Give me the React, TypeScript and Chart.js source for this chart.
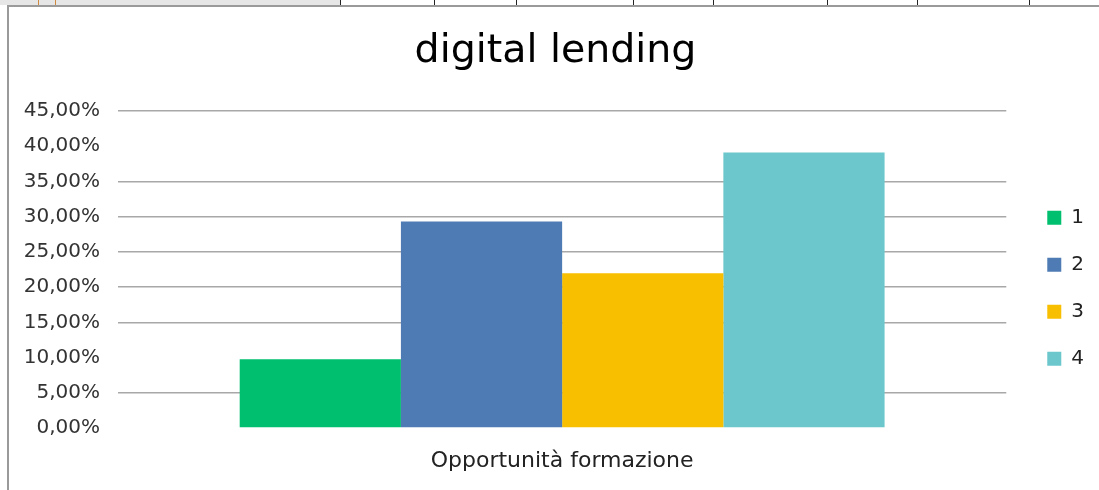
import React, { useEffect, useRef } from 'react';
import { Chart, registerables } from 'chart.js';

Chart.register(...registerables);

const categories = ['Opportunità formazione'];
const seriesNames = ['1', '2', '3', '4'];
const series1 = [0.0976];
const series2 = [0.293];
const series3 = [0.2195];
const series4 = [0.391];
const yMin = 0;
const yMax = 0.45;
const yStep = 0.05;
const hiddenGridValues = [0, 0.1, 0.4];
const headerTicks = [340, 434, 516, 633, 713, 827, 917, 1029];

const FONT = "'DejaVu Sans', sans-serif";

export default function App() {
  const ref = useRef<HTMLCanvasElement | null>(null);

  useEffect(() => {
    if (!ref.current) return;
    const colors = ['#00BF6F', '#4E7BB4', '#F8BE00', '#6BC7CC'];
    const values = [series1, series2, series3, series4];
    const chart = new Chart(ref.current, {
      type: 'bar',
      data: {
        labels: categories,
        datasets: seriesNames.map((name, i) => ({
          label: name,
          data: values[i],
          backgroundColor: colors[i],
          borderWidth: 0,
          categoryPercentage: 0.726,
          barPercentage: 1,
        })),
      },
      options: {
        responsive: false,
        animation: false,
        layout: { padding: { top: 0, bottom: 0, left: 8, right: 5 } },
        plugins: {
          title: {
            display: true,
            text: 'digital lending',
            color: '#000',
            font: { family: FONT, size: 39.5, weight: 'normal' },
            padding: { top: 22.1, bottom: 35.5 },
          },
          legend: {
            display: true,
            position: 'right',
            fullSize: false,
            title: { display: true, text: '', font: { size: 12 }, padding: { top: 23.2, bottom: 0 } },
            labels: {
              font: { family: FONT, size: 20 },
              color: '#222',
              boxWidth: 14,
              boxHeight: 14,
              padding: 27,
            },
          },
          tooltip: { enabled: false },
        },
        scales: {
          x: {
            grid: { display: false, drawTicks: false },
            border: { display: false },
            afterFit: (s: any) => { s.height = 62; },
            ticks: { font: { family: FONT, size: 22 }, color: '#222', padding: 20 },
          },
          y: {
            min: yMin,
            max: yMax,
            border: { display: false },
            afterFit: (s: any) => { s.width = 101; },
            grid: {
              drawTicks: false,
              lineWidth: 1.5,
              color: (c: any) => {
                const v = c && c.tick ? c.tick.value : null;
                if (v !== null && hiddenGridValues.some((h) => Math.abs(h - v) < 1e-9)) return 'rgba(0,0,0,0)';
                return '#a8a8a8';
              },
            },
            ticks: {
              stepSize: yStep,
              padding: 18,
              color: '#333',
              font: { family: FONT, size: 20 },
              callback: (v: any) => (Number(v) * 100).toFixed(2).replace('.', ',') + '%',
            },
          },
          yGap: {
            type: 'linear',
            position: 'right',
            display: true,
            grid: { display: false, drawTicks: false },
            ticks: { display: false },
            border: { display: false },
            afterFit: (s: any) => { s.width = 14; },
          },
        },
      } as any,
    });
    return () => chart.destroy();
  }, []);

  return (
    <div style={{ position: 'fixed', left: 0, top: 0, width: 1099, height: 490, background: '#fff', overflow: 'hidden' }}>
      <div style={{ position: 'absolute', left: 0, top: 0, width: 340, height: 5, background: '#e6e6e6' }} />
      <div style={{ position: 'absolute', left: 38, top: 0, width: 1, height: 5, background: '#d08a40' }} />
      <div style={{ position: 'absolute', left: 55, top: 0, width: 1, height: 5, background: '#d08a40' }} />
      {headerTicks.map((x) => (
        <div key={x} style={{ position: 'absolute', left: x, top: 0, width: 1, height: 5, background: '#222' }} />
      ))}
      <div style={{ position: 'absolute', left: 7, top: 5, width: 1092, height: 1.5, background: '#9a9a9a' }} />
      <div style={{ position: 'absolute', left: 7, top: 5, width: 1.5, height: 485, background: '#9a9a9a' }} />
      <canvas ref={ref} width={1090} height={484} style={{ position: 'absolute', left: 9, top: 6, width: 1090, height: 484 }} />
    </div>
  );
}
